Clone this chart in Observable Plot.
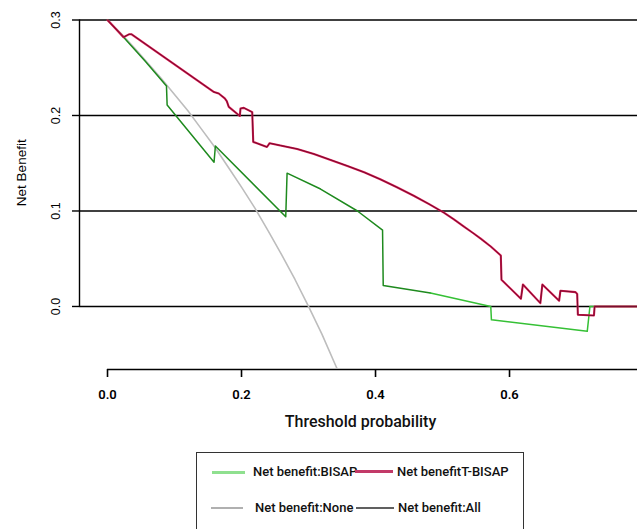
<!DOCTYPE html>
<html>
<head>
<meta charset="utf-8">
<script src="https://cdn.jsdelivr.net/npm/d3@7"></script>
<script src="https://cdn.jsdelivr.net/npm/@observablehq/plot@0.6"></script>
<style>
  body { margin: 0; background: #fff; }
  #wrap { position: relative; width: 637px; height: 529px; overflow: hidden; background: #fff; }
  #legend { position: absolute; left: 196px; top: 452px; width: 328px; height: 110px; border: 1.3px solid #333; box-sizing: border-box; }
  .sw { position: absolute; height: 0; }
  .lt { position: absolute; font-family: Roboto, sans-serif; font-weight: 500; font-size: 13px; color: #111; line-height: 1; white-space: nowrap; }
</style>
</head>
<body>
<div id="wrap"></div>
<script>
// ---- data ----
const xTicks = [0, 0.2, 0.4, 0.6];
const yTicks = [0, 0.1, 0.2, 0.3];

// Net benefit: All (gray curve)
const allX = [0, 0.02, 0.04, 0.06, 0.08, 0.10, 0.12, 0.14, 0.16, 0.18, 0.20, 0.22, 0.24, 0.26, 0.28, 0.30, 0.32, 0.34, 0.35];
const allY = [0.300, 0.286, 0.271, 0.255, 0.239, 0.222, 0.205, 0.186, 0.167, 0.146, 0.125, 0.103, 0.079, 0.054, 0.028, 0.000, -0.029, -0.061, -0.077];

// Net benefit: BISAP (green)
const bisapX = [0, 0.024, 0.056, 0.088, 0.089, 0.159, 0.161, 0.266, 0.268, 0.318, 0.373, 0.4105, 0.4115, 0.482, 0.572, 0.573, 0.716, 0.720, 0.800];
const bisapY = [0.300, 0.282, 0.257, 0.231, 0.211, 0.151, 0.168, 0.094, 0.1396, 0.123, 0.100, 0.080, 0.022, 0.014, 0.000, -0.014, -0.026, 0.000, 0.000];

// Net benefit: T-BISAP (red)
const tbisapX = [0, 0.024, 0.032, 0.036, 0.159, 0.166, 0.175, 0.178, 0.181, 0.1975, 0.1985, 0.2035, 0.216, 0.2175, 0.238, 0.242, 0.258, 0.283, 0.308, 0.333, 0.358, 0.383, 0.407, 0.432, 0.457, 0.480, 0.502, 0.517, 0.532, 0.545, 0.557, 0.572, 0.587, 0.588, 0.617, 0.620, 0.646, 0.649, 0.674, 0.676, 0.6985, 0.701, 0.702, 0.726, 0.727, 0.800];
const tbisapY = [0.300, 0.282, 0.285, 0.285, 0.2245, 0.223, 0.218, 0.215, 0.209, 0.1995, 0.2074, 0.208, 0.2035, 0.1723, 0.167, 0.171, 0.1686, 0.1650, 0.1597, 0.1535, 0.1472, 0.1405, 0.1332, 0.1248, 0.1160, 0.1072, 0.0982, 0.0912, 0.0836, 0.0772, 0.0710, 0.0628, 0.0534, 0.028, 0.008, 0.023, 0.0035, 0.023, 0.006, 0.0165, 0.015, 0.013, -0.0087, -0.0095, 0.000, 0.000];

const legendItems = ["Net benefit:BISAP", "Net benefitT-BISAP", "Net benefit:None", "Net benefit:All"];
const legendColors = ["#8fe08f", "#c23a68", "#b0b0b0", "#606060"];

// ---- build tables ----
const toRows = (xs, ys) => xs.map((x, i) => ({x, y: ys[i]}));
const allRows = toRows(allX, allY);
const bisapRows = toRows(bisapX, bisapY);
const tbisapRows = toRows(tbisapX, tbisapY);

const xDomain = [-0.0418, 0.791];
const yDomain = [-0.066, 0.3];

const plot = Plot.plot({
  width: 637,
  height: 440,
  marginLeft: 79,
  marginRight: 0,
  marginTop: 19.5,
  marginBottom: 71,
  x: {domain: xDomain, axis: null},
  y: {domain: yDomain, axis: null},
  style: {background: "white", overflow: "hidden"},
  marks: [
    Plot.ruleY(yTicks, {stroke: "#000", strokeWidth: 1.4}),
    Plot.ruleX([xDomain[0]], {y1: yTicks[0], y2: yTicks[yTicks.length - 1], stroke: "#000", strokeWidth: 1.4}),
    Plot.axisY({ticks: yTicks, tickSize: 7, tickFormat: () => "", stroke: "#000", strokeWidth: 1.4, label: null}),
    Plot.text(yTicks, {y: d => d, frameAnchor: "left", textAnchor: "middle", text: d => d.toFixed(1), rotate: -90, dx: -24, fontSize: 12.5, fontFamily: "Liberation Sans, Arial, sans-serif", fill: "#000"}),
    Plot.text(["Net Benefit"], {frameAnchor: "left", textAnchor: "middle", dx: -58, dy: -22, rotate: -90, fontSize: 13.5, fontFamily: "Liberation Sans, Arial, sans-serif", fill: "#000"}),
    Plot.ruleY([yDomain[0]], {x1: xTicks[0], x2: 0.8, stroke: "#000", strokeWidth: 1.6}),
    Plot.axisX({ticks: xTicks, tickSize: 8, tickPadding: 12, tickFormat: d3.format(".1f"), fontSize: 13, fontWeight: 600, fontFamily: "Roboto, sans-serif", stroke: "#000", strokeWidth: 1.6, label: null}),
    Plot.text(["Threshold probability"], {frameAnchor: "bottom", dx: 2, dy: 57, fontSize: 16, fontWeight: 500, fontFamily: "Roboto, sans-serif", fill: "#111"}),
    Plot.line(allRows, {x: "x", y: "y", stroke: "#bdbdbd", strokeWidth: 1.6, clip: true}),
    Plot.line(bisapRows, {x: "x", y: "y", z: null, stroke: d => d.x < 0.42 ? "#1e8a1e" : "#35c035", strokeWidth: 1.5, clip: true}),
    Plot.line(tbisapRows, {x: "x", y: "y", stroke: "#d81850", strokeWidth: 2.1, clip: true}),
    Plot.line(tbisapRows, {x: "x", y: "y", stroke: "#5e0a26", strokeWidth: 0.8, clip: true})
  ]
});

const wrap = document.getElementById("wrap");
wrap.appendChild(plot);

// legend (HTML below the SVG)
const legend = document.createElement("div");
legend.id = "legend";
wrap.appendChild(legend);
const pos = [
  {sx: 212, sw: 33, tx: 253, y: 472, w: 3},
  {sx: 355, sw: 38, tx: 397, y: 472, w: 3.2},
  {sx: 211, sw: 32, tx: 255, y: 508, w: 2.5},
  {sx: 356, sw: 38, tx: 398, y: 508, w: 2.5}
];
legendItems.forEach((label, i) => {
  const p = pos[i];
  const s = document.createElement("div");
  s.className = "sw";
  s.style.left = p.sx + "px";
  s.style.width = p.sw + "px";
  s.style.top = (p.y - p.w / 2) + "px";
  s.style.borderTop = p.w + "px solid " + legendColors[i];
  wrap.appendChild(s);
  const t = document.createElement("div");
  t.className = "lt";
  t.style.left = p.tx + "px";
  t.style.top = (p.y - 7) + "px";
  t.textContent = label;
  wrap.appendChild(t);
});
</script>
</body>
</html>
